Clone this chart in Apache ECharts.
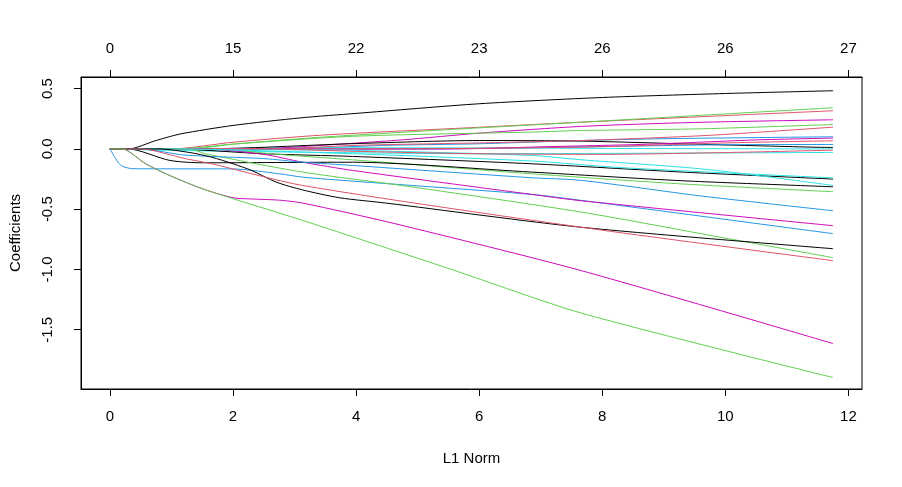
<!DOCTYPE html>
<html>
<head>
<meta charset="utf-8">
<script src="https://cdn.jsdelivr.net/npm/echarts@6/dist/echarts.min.js"></script>
<style>
html,body{margin:0;padding:0;background:#fff;}
#chart{width:902px;height:487px;}
</style>
</head>
<body>
<div id="chart"></div>
<script>
// ---- axis ticks / labels ----
const xTicks = [0, 2, 4, 6, 8, 10, 12];
const dfLabels = ['0', '15', '22', '23', '26', '26', '27'];
const yTicks = [0.5, 0, -0.5, -1, -1.5];

// ---- coefficient paths: [L1 norm, coefficient] ----
const coefBlack1 = [[0,0],[0.3,0],[0.75,0.07],[1.15,0.125],[2,0.195],[3.1,0.258],[4,0.295],[6,0.375],[8,0.427],[10,0.46],[11.75,0.483]];
const coefRed1 = [[0,0],[1.0,0],[2,0.056],[3.45,0.115],[6,0.18],[7.66,0.222],[11.75,0.317]];
const coefGreen1 = [[0,0],[1.3,0],[2,0.04],[3.45,0.098],[6,0.175],[7.66,0.222],[11.75,0.342]];
const coefBlue1 = [[0,0],[2.8,0],[4.5,0.03],[6,0.043],[7.66,0.07],[9,0.085],[11.75,0.101]];
const coefCyan1 = [[0,0],[1,0],[3,0.01],[6,0.008],[9,0.003],[11.75,0.0]];
const coefMagenta1 = [[0,0],[2.4,0],[3.13,0.02],[4.74,0.075],[6,0.131],[7.66,0.187],[9.5,0.22],[11.75,0.242]];
const coefBlack2 = [[0,0],[1.5,0],[3.9,0.043],[6,0.07],[7.66,0.065],[9.5,0.04],[11.4,0.015],[11.75,0.012]];
const coefRed2 = [[0,0],[2.6,0],[4,0.03],[6,0.05],[7.66,0.07],[9.7,0.112],[11.75,0.181]];
const coefGreen2 = [[0,0],[1.1,0],[2,0.04],[3.94,0.105],[6.85,0.14],[7.66,0.153],[9.6,0.167],[11.75,0.203]];
const coefBlue2 = [[0,0],[5,0],[8,0.02],[10,0.035],[11.75,0.037]];
const coefCyan2 = [[0,0],[0.8,-0.01],[3,-0.026],[6,-0.04],[9,-0.035],[11.75,-0.029]];
const coefMagenta2 = [[0,0],[5.5,0],[7.2,0.02],[8.8,0.04],[10.5,0.075],[11.75,0.09]];
const coefBlack3 = [[0,0],[1.0,0],[2.5,-0.04],[3.94,-0.062],[6.85,-0.123],[9.3,-0.192],[11.75,-0.25]];
const coefRed3 = [[0,0],[4,0],[7.66,0.015],[10,0.05],[11.75,0.068]];
const coefGreen3 = [[0,0],[1.8,0],[2.6,-0.04],[3.94,-0.09],[6.85,-0.206],[9.25,-0.289],[11.75,-0.355]];
const coefBlue3 = [[0,0],[0.13,-0.109],[0.21,-0.145],[0.37,-0.164],[2,-0.166],[2.75,-0.206],[3.13,-0.234],[3.94,-0.267],[6.85,-0.377],[7.66,-0.427],[11.75,-0.703]];
const coefCyan3 = [[0,0],[0.5,0],[2,-0.005],[3.94,-0.012],[6.85,-0.054],[7.66,-0.09],[9.7,-0.17],[11.75,-0.303]];
const coefMagenta3 = [[0,0],[1.5,0],[2.5,-0.045],[3.13,-0.11],[3.94,-0.178],[6.85,-0.377],[7.66,-0.43],[11.75,-0.637]];
const coefBlack4 = [[0,0],[0.3,0],[0.97,-0.095],[1.5,-0.115],[3.94,-0.11],[6.85,-0.192],[9.3,-0.264],[11.75,-0.314]];
const coefRed4 = [[0,0],[2.5,0],[4,-0.02],[6,-0.04],[8,-0.045],[10,-0.03],[11.75,-0.01]];
const coefGreen4 = [[0,0],[1.3,0],[1.55,-0.04],[3.13,-0.192],[4.74,-0.303],[7.66,-0.524],[10.05,-0.745],[11.75,-0.902]];
const coefBlue4 = [[0,0],[0.5,0],[1.2,-0.05],[2.5,-0.08],[3.13,-0.11],[3.94,-0.137],[6.85,-0.239],[7.66,-0.261],[9.6,-0.39],[11.75,-0.513]];
const coefCyan4 = [[0,0],[1,0],[3.94,-0.04],[6.85,-0.1],[8.3,-0.155],[11.75,-0.24]];
const coefMagenta4 = [[0,0],[0.2,0],[0.58,-0.123],[0.97,-0.22],[1.5,-0.33],[2.0,-0.405],[2.3,-0.415],[2.75,-0.425],[3.13,-0.449],[4.63,-0.62],[7.66,-1.01],[11.75,-1.615]];
const coefBlack5 = [[0,0],[0.8,0],[1.3,-0.03],[1.65,-0.068],[2,-0.123],[2.3,-0.178],[2.7,-0.275],[3.13,-0.34],[3.73,-0.405],[4.5,-0.45],[7.66,-0.65],[11.75,-0.828]];
const coefRed5 = [[0,0],[0.5,0],[1.23,-0.081],[1.67,-0.125],[3.13,-0.303],[7.66,-0.65],[11.75,-0.927]];
const coefGreen5 = [[0,0],[0.2,0],[0.58,-0.123],[0.97,-0.22],[1.5,-0.33],[2,-0.413],[3.13,-0.593],[5.55,-1.0],[7.66,-1.362],[11.75,-1.897]];

const palette = {black:'#000000', red:'#DF536B', green:'#61D04F', blue:'#2297E6', cyan:'#28E2E5', magenta:'#CD0BBC'};

const paths = [
  [coefBlack1,'black'],[coefRed1,'red'],[coefGreen1,'green'],[coefBlue1,'blue'],[coefCyan1,'cyan'],[coefMagenta1,'magenta'],
  [coefBlack2,'black'],[coefRed2,'red'],[coefGreen2,'green'],[coefBlue2,'blue'],[coefCyan2,'cyan'],[coefMagenta2,'magenta'],
  [coefBlack3,'black'],[coefRed3,'red'],[coefGreen3,'green'],[coefBlue3,'blue'],[coefCyan3,'cyan'],[coefMagenta3,'magenta'],
  [coefBlack4,'black'],[coefRed4,'red'],[coefGreen4,'green'],[coefBlue4,'blue'],[coefCyan4,'cyan'],[coefMagenta4,'magenta'],
  [coefBlack5,'black'],[coefRed5,'red'],[coefGreen5,'green']
];

const font = 'Liberation Sans, Arial, sans-serif';
const fs = 15;

const chart = echarts.init(document.getElementById('chart'), null, {renderer:'canvas'});
const option = {
  animation: false,
  backgroundColor: '#ffffff',
  grid: {left: 78, top: 77, width: 784, height: 312, show: true, borderColor: '#000', borderWidth: 1, backgroundColor: 'transparent'},
  xAxis: [
    {
      type: 'value', min: -0.47, max: 12.22, position: 'bottom',
      axisLine: {show: true, onZero: false, lineStyle: {color: '#000', width: 1}},
      axisTick: {show: true, length: 7, customValues: xTicks, lineStyle: {color: '#000', width: 1}},
      axisLabel: {customValues: xTicks, margin: 20, color: '#000', fontSize: fs, fontFamily: font},
      splitLine: {show: false},
      name: 'L1 Norm', nameLocation: 'middle', nameGap: 62,
      nameTextStyle: {color: '#000', fontSize: fs, fontFamily: font}
    },
    {
      type: 'value', min: -0.47, max: 12.22, position: 'top',
      axisLine: {show: true, onZero: false, lineStyle: {color: '#000', width: 1}},
      axisTick: {show: true, length: 7, customValues: xTicks, lineStyle: {color: '#000', width: 1}},
      axisLabel: {customValues: xTicks, margin: 21, color: '#000', fontSize: fs, fontFamily: font,
        formatter: function (v) { const i = xTicks.findIndex(t => Math.abs(t - v) < 1e-6); return i >= 0 ? dfLabels[i] : ''; }},
      splitLine: {show: false}
    }
  ],
  yAxis: {
    type: 'value', min: -1.992, max: 0.597,
    axisLine: {show: true, onZero: false, lineStyle: {color: '#000', width: 1}},
    axisTick: {show: true, length: 7, customValues: yTicks, lineStyle: {color: '#000', width: 1}},
    axisLabel: {customValues: yTicks, rotate: 90, margin: 26, color: '#000', fontSize: fs, fontFamily: font,
      formatter: function (v) { return (Math.round(v * 10) / 10).toFixed(1); }},
    splitLine: {show: false},
    name: 'Coefficients', nameLocation: 'middle', nameGap: 58, nameRotate: 90,
    nameTextStyle: {color: '#000', fontSize: fs, fontFamily: font}
  },
  series: paths.map(function (p) {
    return {
      type: 'line', data: p[0], xAxisIndex: 0, yAxisIndex: 0,
      showSymbol: false, symbol: 'none', smooth: 0.25,
      lineStyle: {color: palette[p[1]], width: 1},
      itemStyle: {color: palette[p[1]]},
      emphasis: {disabled: true}, silent: true
    };
  })
};
chart.setOption(option);
</script>
</body>
</html>
